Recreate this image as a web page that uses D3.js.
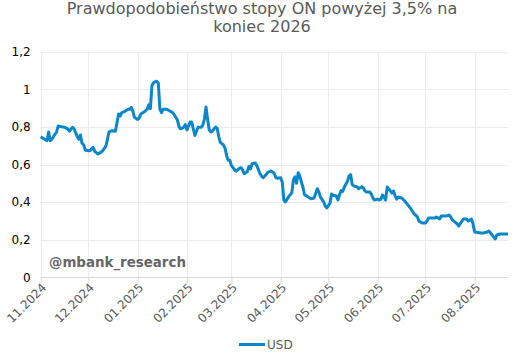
<!DOCTYPE html>
<html><head><meta charset="utf-8">
<script src="https://cdn.jsdelivr.net/npm/d3@7"></script>
<style>html,body{margin:0;padding:0;background:#fff;}svg{display:block;}</style>
</head><body>
<svg id="c" width="513" height="357"></svg>
<script>
const titleLines = ["Prawdopodobieństwo stopy ON powyżej 3,5% na", "koniec 2026"];
const seriesName = "USD";
const watermark = "@mbank_research";
const yTicks = [0, 0.2, 0.4, 0.6, 0.8, 1, 1.2];
const xTickLabels = ["11.2024","12.2024","01.2025","02.2025","03.2025","04.2025","05.2025","06.2025","07.2025","08.2025"];
const dates = [
"2024-11-01","2024-11-03","2024-11-05","2024-11-06","2024-11-07","2024-11-08","2024-11-09","2024-11-11","2024-11-12","2024-11-14",
"2024-11-16","2024-11-18","2024-11-19","2024-11-21","2024-11-22","2024-11-24","2024-11-25","2024-11-26","2024-11-27","2024-11-28",
"2024-11-29","2024-12-01","2024-12-02","2024-12-04","2024-12-05","2024-12-06","2024-12-07","2024-12-09","2024-12-10","2024-12-12",
"2024-12-13","2024-12-14","2024-12-16","2024-12-18","2024-12-19","2024-12-20","2024-12-21","2024-12-22","2024-12-24","2024-12-26",
"2024-12-27","2024-12-28","2024-12-29","2024-12-30","2025-01-01","2025-01-02","2025-01-03","2025-01-05","2025-01-07","2025-01-08",
"2025-01-09","2025-01-10","2025-01-11","2025-01-12","2025-01-13","2025-01-14","2025-01-15","2025-01-16","2025-01-17","2025-01-19",
"2025-01-21","2025-01-23","2025-01-24","2025-01-26","2025-01-27","2025-01-28","2025-01-30","2025-01-31","2025-02-01","2025-02-02",
"2025-02-03","2025-02-04","2025-02-05","2025-02-06","2025-02-07","2025-02-08","2025-02-10","2025-02-11","2025-02-12","2025-02-13",
"2025-02-14","2025-02-15","2025-02-16","2025-02-17","2025-02-19","2025-02-20","2025-02-21","2025-02-22","2025-02-24","2025-02-25",
"2025-02-26","2025-02-27","2025-02-28","2025-03-01","2025-03-02","2025-03-03","2025-03-04","2025-03-06","2025-03-07","2025-03-08",
"2025-03-09","2025-03-11","2025-03-12","2025-03-13","2025-03-14","2025-03-16","2025-03-17","2025-03-19","2025-03-20","2025-03-21",
"2025-03-23","2025-03-24","2025-03-26","2025-03-27","2025-03-28","2025-03-29","2025-03-30","2025-04-01","2025-04-02","2025-04-03",
"2025-04-04","2025-04-06","2025-04-07","2025-04-08","2025-04-09","2025-04-10","2025-04-11","2025-04-12","2025-04-13","2025-04-14",
"2025-04-15","2025-04-16","2025-04-18","2025-04-20","2025-04-22","2025-04-24","2025-04-25","2025-04-26","2025-04-28","2025-04-29",
"2025-04-30","2025-05-02","2025-05-03","2025-05-04","2025-05-06","2025-05-07","2025-05-08","2025-05-09","2025-05-10","2025-05-11",
"2025-05-13","2025-05-14","2025-05-15","2025-05-16","2025-05-17","2025-05-19","2025-05-20","2025-05-22","2025-05-23","2025-05-24",
"2025-05-25","2025-05-27","2025-05-28","2025-05-29","2025-05-30","2025-06-01","2025-06-02","2025-06-03","2025-06-04","2025-06-05",
"2025-06-06","2025-06-07","2025-06-08","2025-06-09","2025-06-10","2025-06-11","2025-06-12","2025-06-13","2025-06-14","2025-06-16",
"2025-06-18","2025-06-20","2025-06-22","2025-06-24","2025-06-26","2025-06-27","2025-06-28","2025-06-29","2025-07-01","2025-07-02",
"2025-07-03","2025-07-05","2025-07-07","2025-07-08","2025-07-10","2025-07-11","2025-07-14","2025-07-16","2025-07-17","2025-07-18",
"2025-07-21","2025-07-22","2025-07-24","2025-07-25","2025-07-27","2025-07-28","2025-07-30","2025-07-31","2025-08-01","2025-08-05",
"2025-08-07","2025-08-09","2025-08-10","2025-08-11","2025-08-12","2025-08-14","2025-08-15","2025-08-17","2025-08-20","2025-08-22"
];
const usd = [
0.748,0.737,0.727,0.773,0.727,0.734,0.748,0.773,0.805,0.801,
0.798,0.790,0.777,0.798,0.790,0.748,0.734,0.757,0.713,0.705,
0.677,0.673,0.673,0.691,0.670,0.663,0.656,0.666,0.673,0.698,
0.734,0.773,0.780,0.777,0.822,0.869,0.858,0.876,0.883,0.894,
0.894,0.904,0.883,0.851,0.840,0.847,0.869,0.879,0.894,0.918,
0.897,1.021,1.035,1.039,1.043,1.032,0.894,0.876,0.894,0.894,
0.886,0.876,0.865,0.837,0.801,0.790,0.798,0.812,0.784,0.805,
0.826,0.826,0.790,0.755,0.777,0.798,0.798,0.809,0.842,0.906,
0.842,0.785,0.774,0.778,0.799,0.793,0.750,0.718,0.704,0.686,
0.647,0.622,0.622,0.594,0.583,0.572,0.565,0.580,0.583,0.572,
0.551,0.562,0.590,0.576,0.604,0.608,0.594,0.551,0.537,0.530,
0.548,0.559,0.565,0.559,0.551,0.530,0.527,0.530,0.505,0.411,
0.401,0.429,0.439,0.450,0.518,0.535,0.500,0.556,0.539,0.507,
0.479,0.439,0.429,0.418,0.422,0.471,0.454,0.426,0.401,0.379,
0.369,0.394,0.443,0.436,0.432,0.411,0.439,0.461,0.457,0.479,
0.511,0.539,0.546,0.493,0.486,0.482,0.471,0.482,0.475,0.459,
0.454,0.454,0.443,0.422,0.411,0.416,0.411,0.416,0.438,0.427,
0.411,0.480,0.470,0.459,0.448,0.459,0.432,0.416,0.427,0.422,
0.406,0.385,0.363,0.337,0.321,0.299,0.294,0.289,0.289,0.299,
0.315,0.315,0.315,0.321,0.310,0.326,0.326,0.331,0.321,0.305,
0.284,0.273,0.299,0.310,0.310,0.299,0.310,0.284,0.241,0.236,
0.236,0.241,0.246,0.236,0.225,0.204,0.225,0.230,0.230,0.230
];

const parse = d3.timeParse("%Y-%m-%d");
const data = dates.map((d, i) => ({ date: parse(d), v: usd[i] }));
const tickDates = xTickLabels.map(s => { const [m, y] = s.split("."); return new Date(+y, +m - 1, 1); });

const svg = d3.select("#c");
const m = { left: 40.7, right: 508, top: 51.7, bottom: 277.3 };
const x = d3.scaleTime().domain([new Date(2024, 10, 1), new Date(2025, 7, 22)]).range([m.left, m.right]);
const y = d3.scaleLinear().domain([0, 1.2]).range([m.bottom, m.top]);

const font = "'DejaVu Sans', Verdana, sans-serif";

// title
svg.append("g").selectAll("text").data(titleLines).join("text")
  .attr("x", 262).attr("y", (d, i) => 14 + i * 18)
  .attr("text-anchor", "middle").attr("font-family", font).attr("font-size", 16)
  .attr("fill", "#595959").text(d => d);

// horizontal grid
svg.append("g").selectAll("line").data(yTicks.filter(t => t > 0)).join("line")
  .attr("x1", m.left).attr("x2", m.right).attr("y1", d => Math.round(y(d)) + 0.5).attr("y2", d => Math.round(y(d)) + 0.5)
  .attr("stroke", "#ebebeb").attr("stroke-width", 1);
// vertical grid
svg.append("g").selectAll("line").data(tickDates).join("line")
  .attr("x1", d => Math.round(x(d)) + 0.5).attr("x2", d => Math.round(x(d)) + 0.5)
  .attr("y1", m.top).attr("y2", m.bottom)
  .attr("stroke", "#ebebeb").attr("stroke-width", 1);

// x axis
const xAxis = d3.axisBottom(x).tickValues(tickDates).tickSize(6).tickSizeOuter(0)
  .tickFormat((d, i) => xTickLabels[i]);
const gx = svg.append("g").attr("transform", `translate(0,${Math.round(m.bottom) + 0.5})`).call(xAxis);
gx.select(".domain").attr("stroke", "#d9d9d9").attr("d", `M${m.left},0H${m.right}`);
gx.selectAll(".tick line").attr("stroke", "#d9d9d9");
gx.selectAll(".tick text")
  .attr("font-family", font).attr("font-size", 12).attr("fill", "#595959")
  .attr("text-anchor", "end").attr("transform", "translate(3,8) rotate(-45)").attr("dy", "0.35em").attr("y", 0).attr("x", 0);

// y axis labels
const yAxis = d3.axisLeft(y).tickValues(yTicks).tickSize(0).tickPadding(10)
  .tickFormat(d => d3.format("~g")(d).replace(".", ","));
const gy = svg.append("g").attr("transform", `translate(${m.left},0)`).call(yAxis);
gy.select(".domain").remove();
gy.selectAll(".tick text").attr("font-family", font).attr("font-size", 12).attr("fill", "#000");

// watermark
svg.append("text").attr("x", 49).attr("y", 267).attr("font-family", font).attr("font-weight", "bold")
  .attr("font-size", 13.4).attr("fill", "#666666").text(watermark);

// line
const line = d3.line().x(d => x(d.date)).y(d => y(d.v));
svg.append("path").datum(data).attr("d", line).attr("fill", "none")
  .attr("stroke", "#0a86c9").attr("stroke-width", 3).attr("stroke-linejoin", "round");

// legend
const lg = svg.append("g");
lg.append("line").attr("x1", 239).attr("x2", 265).attr("y1", 344.5).attr("y2", 344.5)
  .attr("stroke", "#0a86c9").attr("stroke-width", 3);
lg.append("text").attr("x", 267).attr("y", 349).attr("font-family", font).attr("font-size", 12)
  .attr("fill", "#595959").text(seriesName);
</script>
</body></html>
